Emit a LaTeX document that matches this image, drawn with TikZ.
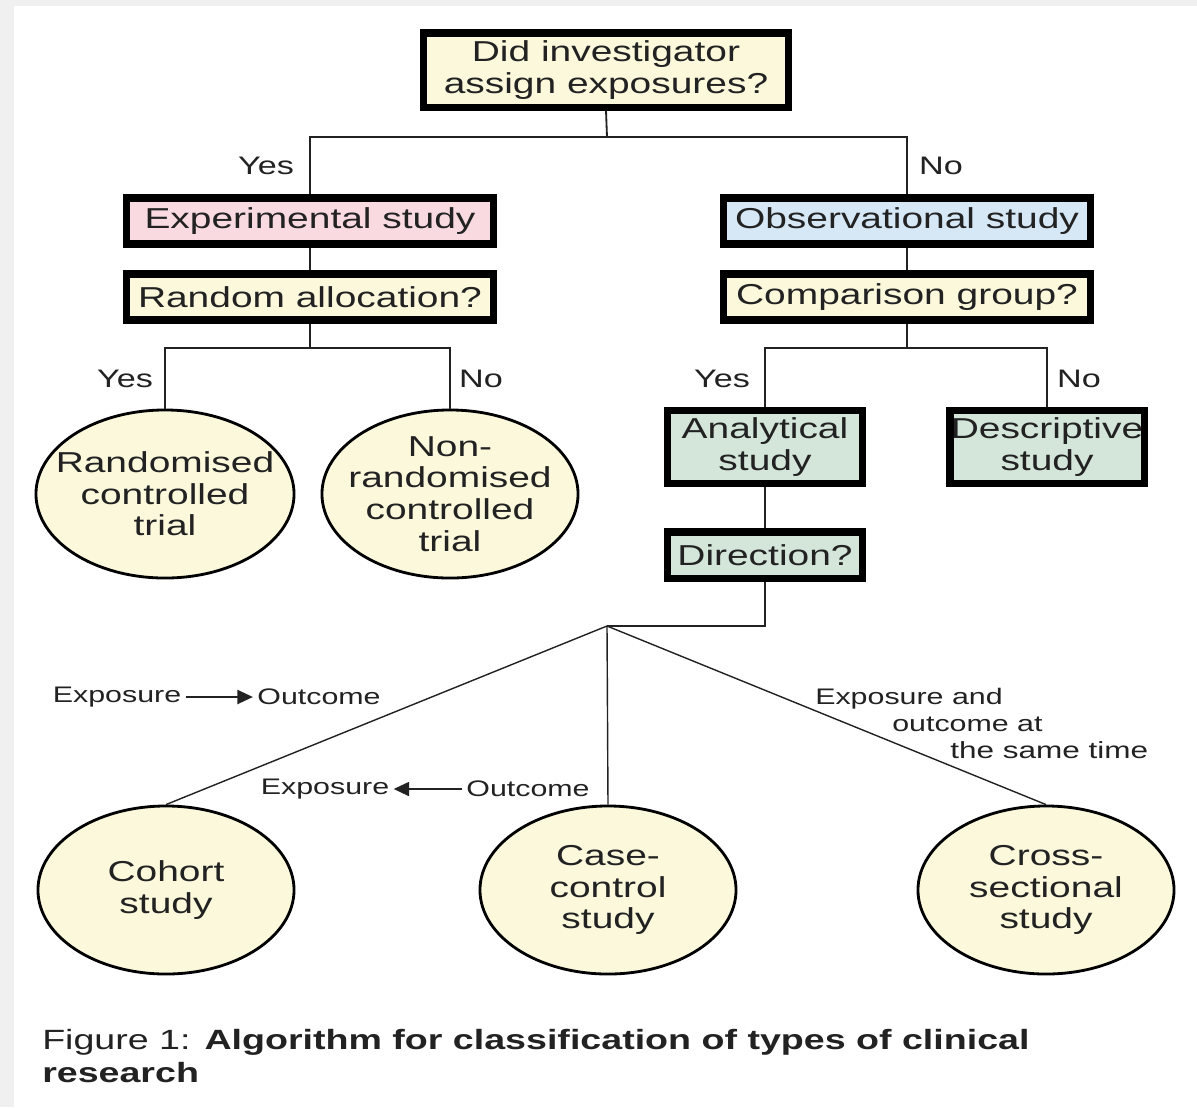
\documentclass[tikz,border=0pt]{standalone}
\usepackage{fontspec}
\setmainfont{Liberation Sans}[FakeStretch=1.35]
\usetikzlibrary{shapes.geometric,arrows.meta}
\definecolor{cream}{RGB}{251,248,220}
\definecolor{pinkfill}{RGB}{249,218,224}
\definecolor{bluefill}{RGB}{214,232,246}
\definecolor{greenfill}{RGB}{212,230,218}
\definecolor{inkgrey}{RGB}{34,34,34}
\begin{document}
\begin{tikzpicture}[x=0.025cm,y=-0.025cm,
	box/.style={draw=black,line width=5pt,inner sep=0pt,align=center,text=inkgrey,
		font=\fontsize{20.5}{22.5}\selectfont},
	studyoval/.style={ellipse,draw=black,line width=2pt,fill=cream,inner xsep=-0.45cm,inner ysep=-0.15cm,
		minimum width=6.4cm,minimum height=4.2cm,align=center,text=inkgrey,
		font=\fontsize{20.5}{22.5}\selectfont},
	answer/.style={text=inkgrey,inner sep=0pt,font=\fontsize{18}{20}\selectfont},
	dirlabel/.style={text=inkgrey,inner ysep=0pt,inner xsep=3pt,font=\fontsize{16}{18}\selectfont},
	link/.style={line width=1.3pt,inkgrey},
	flow/.style={line width=1.3pt,inkgrey,-{Triangle[length=11pt,width=10pt]}}]
			\useasboundingbox (0,0) rectangle (1197,1107);
			\fill[gray!12] (0,0) rectangle (1197,1107);
			\fill[white] (14,6) rectangle (1197,1107);
			% top question
			\node[box,fill=cream,minimum width=9.1cm,minimum height=1.85cm] (assign) at (606,70) {Did investigator\\assign exposures?};
			\node[box,fill=pinkfill,minimum width=9.15cm,minimum height=1.15cm] (exper) at (310,221) {Experimental study};
			\node[box,fill=cream,minimum width=9.15cm,minimum height=1.15cm] (random) at (310,297) {Random allocation?};
			\node[box,fill=bluefill,minimum width=9.15cm,minimum height=1.15cm] (observ) at (907,221) {Observational study};
			\node[box,fill=cream,minimum width=9.15cm,minimum height=1.15cm] (compar) at (907,297) {Comparison group?};
			\coordinate (split1) at (607,137);
			\draw[link] (assign.south) -- (split1);
			\draw[link] (exper.north) |- (split1) -| (observ.north);
			\draw[link] (exper) -- (random);
			\draw[link] (observ) -- (compar);
			\node[answer] (yes1) at (266,166) {Yes};
			\node[answer] (no1) at (941,166) {No};
			% randomised or not
			\node[studyoval] (rct) at (165,494) {Randomised\\controlled\\trial};
			\node[studyoval] (nrct) at (450,494) {Non-\\randomised\\controlled\\trial};
			\coordinate (split2) at (310,348);
			\draw[link] (random.south) -- (split2);
			\draw[link] (rct.north) |- (split2) -| (nrct.north);
			\node[answer] (yes2) at (125,379) {Yes};
			\node[answer] (no2) at (481,379) {No};
			% comparison group
			\node[box,fill=greenfill,minimum width=4.85cm,minimum height=1.83cm] (analyt) at (765,447) {Analytical\\study};
			\node[box,fill=greenfill,minimum width=4.85cm,minimum height=1.83cm] (descr) at (1047,447) {Descriptive\\study};
			\node[box,fill=greenfill,minimum width=4.85cm,minimum height=1.15cm] (direct) at (765,555) {Direction?};
			\coordinate (split3) at (907,348);
			\draw[link] (compar.south) -- (split3);
			\draw[link] (analyt.north) |- (split3) -| (descr.north);
			\draw[link] (analyt) -- (direct);
			\node[answer] (yes3) at (722,379) {Yes};
			\node[answer] (no3) at (1079,379) {No};
			% direction of enquiry
			\node[studyoval] (cohort) at (166,890) {Cohort\\study};
			\node[studyoval] (casec) at (608,890) {Case-\\control\\study};
			\node[studyoval] (cross) at (1046,890) {Cross-\\sectional\\study};
			\coordinate (split4) at (607,626);
			\draw[link] (direct.south) |- (split4);
			\draw[line width=1pt,inkgrey] (split4) -- (cohort.north);
			\draw[line width=1pt,inkgrey] (split4) -- (casec.north);
			\draw[line width=1pt,inkgrey] (split4) -- (cross.north);
			\node[dirlabel] (expo1) at (117,697) {Exposure};
			\node[dirlabel] (outc1) at (319,697) {Outcome};
			\draw[flow] (expo1) -- (outc1);
			\node[dirlabel] (expo2) at (325,789) {Exposure};
			\node[dirlabel] (outc2) at (528,789) {Outcome};
			\draw[flow] (outc2) -- (expo2);
			\node[dirlabel,anchor=base west,inner xsep=0pt] (same1) at (815,704) {Exposure and};
			\node[dirlabel,anchor=base west,inner xsep=0pt] (same2) at (892,731) {outcome at};
			\node[dirlabel,anchor=base west,inner xsep=0pt,font=\fontsize{16.6}{18}\selectfont] (same3) at (950,758) {the same time};
			% caption
			\node[anchor=west,align=left,inner sep=0pt,text=inkgrey,
				font=\fontsize{19.8}{23.4}\selectfont] (caption) at (42,1056)
				{Figure 1: \textbf{Algorithm for classification of types of clinical}\\\textbf{research}};
		\end{tikzpicture}
\end{document}
